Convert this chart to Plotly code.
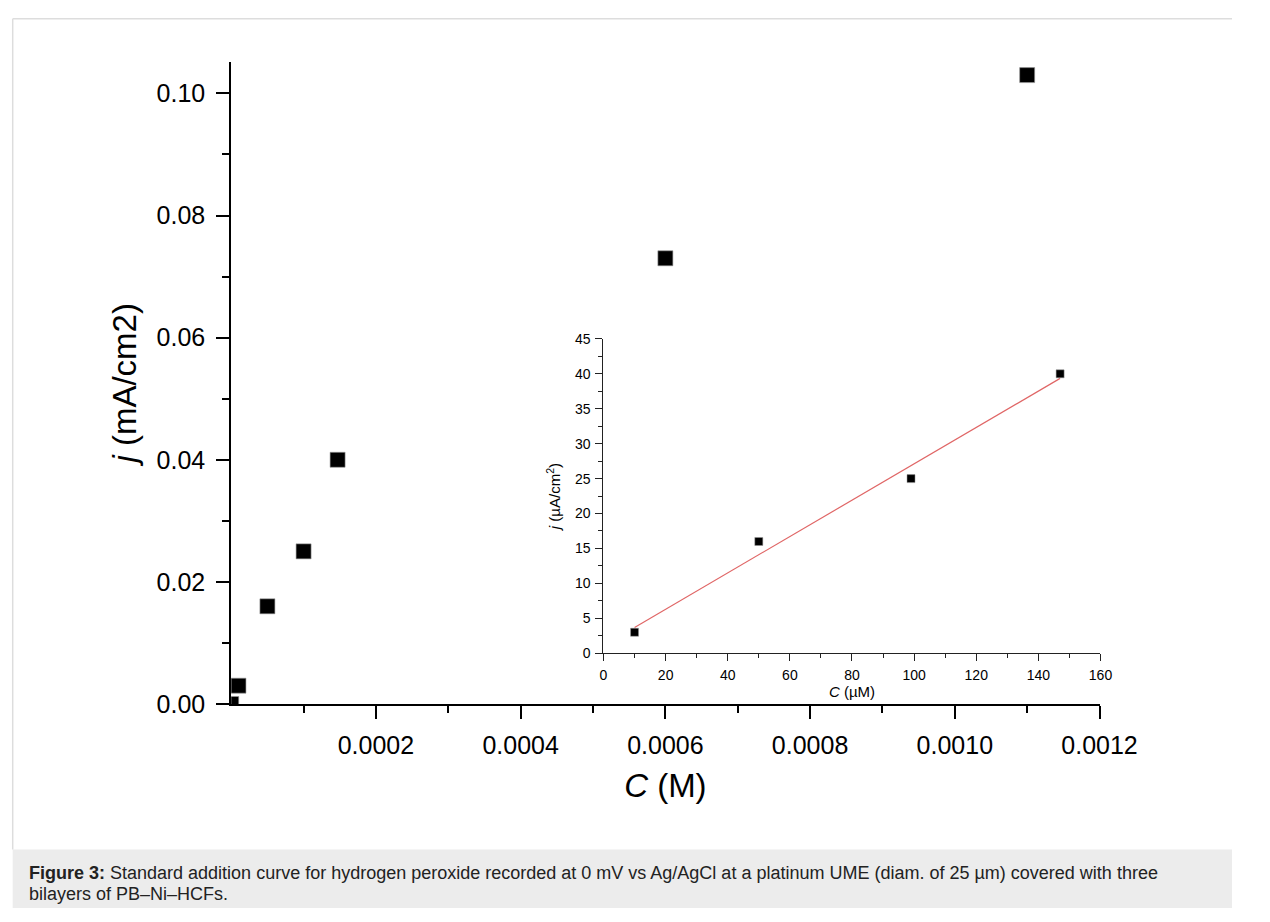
import numpy as np
import plotly.graph_objects as go

# Main plot data
conc_M = [0.0, 0.00001, 0.00005, 0.0001, 0.000147, 0.0006, 0.0011]
j_mA = [0.0, 0.003, 0.016, 0.025, 0.040, 0.073, 0.103]

# Inset data
conc_uM = [10, 50, 99, 147]
j_uA = [3, 16, 25, 40]

x_ticks = [0.0002, 0.0004, 0.0006, 0.0008, 0.0010, 0.0012]
x_ticklabels = ["0.0002", "0.0004", "0.0006", "0.0008", "0.0010", "0.0012"]
y_ticks = [0.00, 0.02, 0.04, 0.06, 0.08, 0.10]
y_ticklabels = ["0.00", "0.02", "0.04", "0.06", "0.08", "0.10"]

caption_line1 = ("<b>Figure 3:</b> Standard addition curve for hydrogen peroxide recorded at 0 mV vs "
                 "Ag/AgCl at a platinum UME (diam. of 25 µm) covered with three")
caption_line2 = "bilayers of PB–Ni–HCFs."

W, H = 1270, 922

def px(x):
    return x / W

def py(y):
    return (H - y) / H

# linear fit of the inset data
slope, intercept = np.polyfit(conc_uM, j_uA, 1)
fit_x = [conc_uM[0], conc_uM[-1]]
fit_y = [slope * v + intercept for v in fit_x]

fig = go.Figure()

fig.add_trace(go.Scatter(
    x=conc_M, y=j_mA, mode="markers",
    marker=dict(symbol="square", size=15, color="black", line=dict(width=0.6, color="#999")),
    xaxis="x", yaxis="y", cliponaxis=True, showlegend=False,
))

fig.add_trace(go.Scatter(
    x=fit_x, y=fit_y, mode="lines",
    line=dict(color="#e06666", width=1.2),
    xaxis="x2", yaxis="y2", showlegend=False,
))
fig.add_trace(go.Scatter(
    x=conc_uM, y=j_uA, mode="markers",
    marker=dict(symbol="square", size=8, color="black", line=dict(width=0.5, color="#999")),
    xaxis="x2", yaxis="y2", showlegend=False,
))

font_main = "Liberation Sans, Arial, sans-serif"

fig.update_layout(
    width=W, height=H,
    margin=dict(l=0, r=0, t=0, b=0),
    paper_bgcolor="white", plot_bgcolor="rgba(0,0,0,0)",
    font=dict(family=font_main, color="black"),
    xaxis=dict(
        domain=[px(235), px(1133)], range=[0, 0.0012],
        tickmode="array", tickvals=x_ticks, ticktext=x_ticklabels,
        ticks="outside", ticklen=13, tickwidth=2, tickcolor="black",
        minor=dict(tickvals=[0.0001, 0.0003, 0.0005, 0.0007, 0.0009, 0.0011],
                   ticks="outside", ticklen=7, tickwidth=2, tickcolor="black"),
        showline=True, linewidth=2, linecolor="black", showgrid=False, zeroline=False,
        tickfont=dict(size=25), ticklabelstandoff=5,
        title=dict(text="<i>C</i> (M)", font=dict(size=33), standoff=16),
        anchor="y",
    ),
    yaxis=dict(
        domain=[py(713), py(55)], range=[0, 0.1052],
        tickmode="array", tickvals=y_ticks, ticktext=y_ticklabels,
        ticks="outside", ticklen=13, tickwidth=2, tickcolor="black",
        minor=dict(tickvals=[0.01, 0.03, 0.05, 0.07, 0.09],
                   ticks="outside", ticklen=7, tickwidth=2, tickcolor="black"),
        showline=True, linewidth=2, linecolor="black", showgrid=False, zeroline=False,
        tickfont=dict(size=25), ticklabelstandoff=6,
        title=dict(text="<i>j</i> (mA/cm2)", font=dict(size=33), standoff=10),
        anchor="x",
    ),
    xaxis2=dict(
        domain=[px(620), px(1134)], range=[0, 160],
        tickmode="array", tickvals=[0, 20, 40, 60, 80, 100, 120, 140, 160],
        ticks="outside", ticklen=7, tickwidth=1, tickcolor="#222",
        minor=dict(tickvals=[10, 30, 50, 70, 90, 110, 130, 150],
                   ticks="outside", ticklen=4, tickwidth=1, tickcolor="#222"),
        showline=True, linewidth=1.3, linecolor="#222", showgrid=False, zeroline=False,
        tickfont=dict(size=14), ticklabelstandoff=2,
        title=dict(text="<i>C</i> (µM)", font=dict(size=15), standoff=3),
        anchor="y2",
    ),
    yaxis2=dict(
        domain=[py(661), py(339)], range=[0, 45],
        tickmode="array", tickvals=[0, 5, 10, 15, 20, 25, 30, 35, 40, 45],
        ticks="outside", ticklen=7, tickwidth=1, tickcolor="#222",
        minor=dict(tickvals=[2.5, 7.5, 12.5, 17.5, 22.5, 27.5, 32.5, 37.5, 42.5],
                   ticks="outside", ticklen=4, tickwidth=1, tickcolor="#222"),
        showline=True, linewidth=1.3, linecolor="#222", showgrid=False, zeroline=False,
        tickfont=dict(size=14), ticklabelstandoff=2,
        title=dict(text="<i>j</i> (µA/cm<sup>2</sup>)", font=dict(size=15), standoff=10),
        anchor="x2",
    ),
    shapes=[
        dict(type="rect", xref="paper", yref="paper", x0=px(9), x1=1.0, y0=0, y1=py(862),
             fillcolor="#ececec", line=dict(width=0), layer="below"),
        dict(type="line", xref="paper", yref="paper", x0=px(9), x1=px(9), y0=py(862), y1=py(11),
             line=dict(color="#dddddd", width=1.5)),
        dict(type="line", xref="paper", yref="paper", x0=px(9), x1=1.0, y0=py(11), y1=py(11),
             line=dict(color="#dddddd", width=1.5)),
    ],
    annotations=[
        dict(text=caption_line1, xref="paper", yref="paper", x=px(24), y=py(886),
             xanchor="left", yanchor="middle", showarrow=False,
             font=dict(size=18, color="#222", family=font_main)),
        dict(text=caption_line2, xref="paper", yref="paper", x=px(24), y=py(908),
             xanchor="left", yanchor="middle", showarrow=False,
             font=dict(size=18, color="#222", family=font_main)),
    ],
)

fig.write_html("out.html")
